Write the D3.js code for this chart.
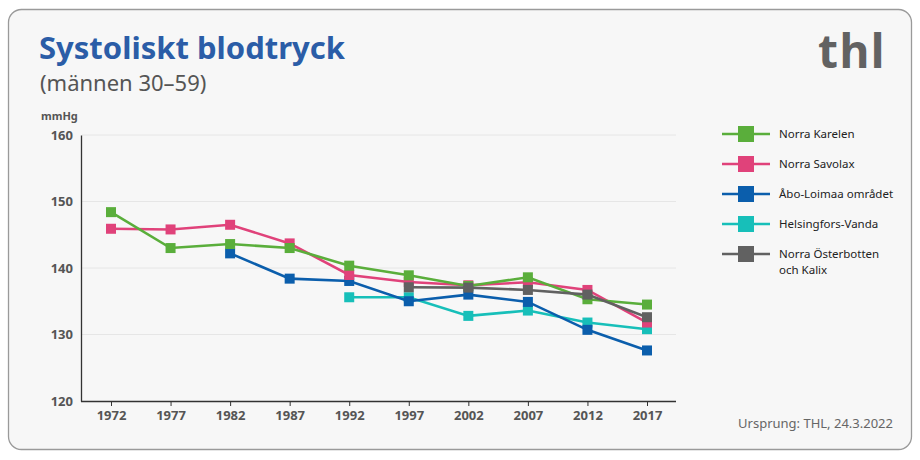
<!DOCTYPE html>
<html>
<head>
<meta charset="utf-8">
<script src="https://cdn.jsdelivr.net/npm/d3@7"></script>
<style>
  body { margin: 0; background: #fff; }
  text { font-family: "Noto Sans", "Open Sans", sans-serif; }
</style>
</head>
<body>
<svg id="canvas" width="920" height="460"></svg>
<script>
// data
const years = [1972, 1977, 1982, 1987, 1992, 1997, 2002, 2007, 2012, 2017];
const yTicks = [120, 130, 140, 150, 160];

const karelen = [148.4, 143.0, 143.6, 143.0, 140.35, 138.9, 137.3, 138.6, 135.3, 134.5];
const savolax = [145.9, 145.8, 146.5, 143.7, 138.95, 137.9, 137.4, 137.85, 136.7, 131.8];
const aboLoimaa = [null, null, 142.2, 138.4, 138.05, 135.0, 136.0, 134.9, 130.7, 127.6];
const helsingfors = [null, null, null, null, 135.6, 135.6, 132.8, 133.6, 131.8, 130.8];
const osterbotten = [null, null, null, null, null, 137.1, 137.05, 136.7, 136.0, 132.6];

const seriesNames = ["Norra Karelen", "Norra Savolax", "Åbo-Loimaa området", "Helsingfors-Vanda", "Norra Österbotten och Kalix"];
const seriesValues = [karelen, savolax, aboLoimaa, helsingfors, osterbotten];
const seriesColors = ["#5aae3b", "#e0427a", "#0b5eac", "#17bfb9", "#616161"];
// which series is painted first (bottom) -> last (top)
const drawOrder = [3, 2, 1, 0, 4];

let svg = d3.select("#canvas");

// card
svg.append("rect")
  .attr("x", 8.5).attr("y", 9.5)
  .attr("width", 903).attr("height", 440)
  .attr("rx", 13)
  .attr("fill", "#f7f7f7")
  .attr("stroke", "#9a9a9a")
  .attr("stroke-width", 1.3);

// titles
svg.append("text")
  .attr("x", 39).attr("y", 59)
  .attr("font-size", 31).attr("font-weight", 700)
  .attr("fill", "#2b5da7")
  .text("Systoliskt blodtryck");

svg.append("text")
  .attr("x", 40).attr("y", 91)
  .attr("font-size", 22)
  .attr("fill", "#555")
  .text("(männen 30–59)");

svg.append("text")
  .attr("x", 41).attr("y", 120)
  .attr("font-size", 11).attr("font-weight", 700)
  .attr("fill", "#555")
  .text("mmHg");

// thl logo
svg.append("text")
  .attr("x", 886).attr("y", 68)
  .attr("text-anchor", "end")
  .attr("font-size", 46).attr("font-weight", 700)
  .attr("letter-spacing", 1.5)
  .attr("fill", "#626262")
  .text("thl");

// scales
let x = d3.scalePoint().domain(years).range([111, 647]);
let y = d3.scaleLinear().domain([120, 160]).range([401, 135]);

// gridlines
svg.append("g")
  .selectAll("line")
  .data(yTicks.slice(1))
  .enter()
  .append("line")
  .attr("x1", 82).attr("x2", 676)
  .attr("y1", d => y(d)).attr("y2", d => y(d))
  .attr("stroke", "#e6e6e6")
  .attr("stroke-width", 1);

// y axis
let yAxis = svg.append("g")
  .attr("transform", "translate(81,0)")
  .call(d3.axisLeft(y).tickValues(yTicks).tickSize(0).tickPadding(8));
yAxis.select(".domain").attr("stroke", "#333").attr("stroke-width", 1.3);
yAxis.selectAll("text")
  .attr("font-size", 13).attr("font-weight", 700)
  .attr("fill", "#555")
  .style("font-family", "'Noto Sans', sans-serif");

// x axis
let xAxis = svg.append("g")
  .attr("transform", "translate(0,401)")
  .call(d3.axisBottom(x).tickSize(5).tickPadding(5).tickSizeOuter(0));
xAxis.select(".domain")
  .attr("d", "M81,0.5H676")
  .attr("stroke", "#333").attr("stroke-width", 1.3);
xAxis.selectAll(".tick line").attr("stroke", "#333");
xAxis.selectAll("text")
  .attr("font-size", 13).attr("font-weight", 700)
  .attr("fill", "#555")
  .style("font-family", "'Noto Sans', sans-serif");

// lines + markers
let line = d3.line()
  .defined(d => d != null)
  .x((d, i) => x(years[i]))
  .y(d => y(d));

drawOrder.forEach(s => {
  let g = svg.append("g");
  g.append("path")
    .datum(seriesValues[s])
    .attr("fill", "none")
    .attr("stroke", seriesColors[s])
    .attr("stroke-width", 2.6)
    .attr("d", line);
  g.selectAll("rect")
    .data(seriesValues[s].map((v, i) => ({ v: v, yr: years[i] })).filter(d => d.v != null))
    .enter()
    .append("rect")
    .attr("x", d => x(d.yr) - 5)
    .attr("y", d => y(d.v) - 5)
    .attr("width", 10).attr("height", 10)
    .attr("fill", seriesColors[s]);
});

// legend
let legend = svg.append("g").attr("transform", "translate(722,134)");
seriesNames.forEach((name, i) => {
  let row = legend.append("g").attr("transform", `translate(0,${i * 30})`);
  row.append("line")
    .attr("x1", 0).attr("x2", 48)
    .attr("stroke", seriesColors[i]).attr("stroke-width", 2.6);
  row.append("rect")
    .attr("x", 16).attr("y", -8)
    .attr("width", 16).attr("height", 16)
    .attr("fill", seriesColors[i]);
  let parts = name === "Norra Österbotten och Kalix" ? ["Norra Österbotten", "och Kalix"] : [name];
  parts.forEach((p, j) => {
    row.append("text")
      .attr("x", 57).attr("y", 4 + j * 16)
      .attr("font-size", 11.5)
      .attr("fill", "#222")
      .text(p);
  });
});

// source
svg.append("text")
  .attr("x", 893).attr("y", 428)
  .attr("text-anchor", "end")
  .attr("font-size", 13)
  .attr("fill", "#666")
  .text("Ursprung: THL, 24.3.2022");
</script>
</body>
</html>
